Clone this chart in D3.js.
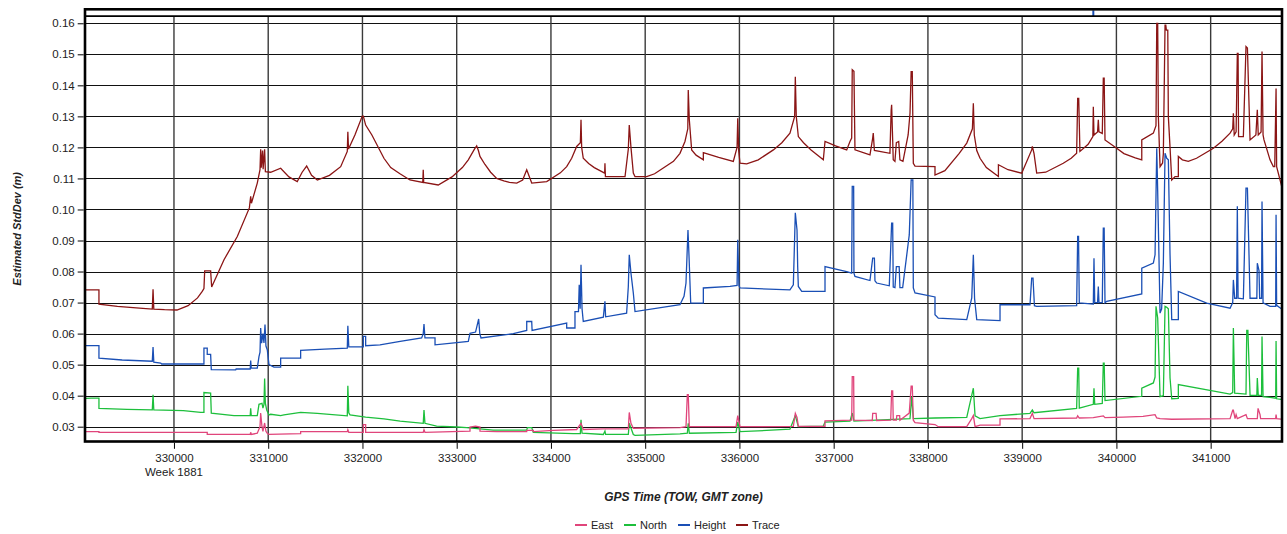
<!DOCTYPE html>
<html><head><meta charset="utf-8">
<script src="https://cdn.jsdelivr.net/npm/d3@7"></script>
<style>
html,body{margin:0;padding:0;background:#fff;}
svg{display:block;font-family:"Liberation Sans",Arial,sans-serif;}
</style></head>
<body>
<svg id="chart" width="1287" height="534"></svg>
<script>
// ---- data (GPS time of week [s], estimated std dev [m]) ----
const seriesNames = ["East", "North", "Height", "Trace"];
const xTicks = [330000,331000,332000,333000,334000,335000,336000,337000,338000,339000,340000,341000];
const yTicks = [0.03,0.04,0.05,0.06,0.07,0.08,0.09,0.10,0.11,0.12,0.13,0.14,0.15,0.16];
const weekLabel = "Week 1881";
const topMarkers = [339755];

const traceData = [
[329056,0.0741],[329204,0.0741],[329204,0.0695],[329400,0.0688],[329600,0.0683],[329770,0.0679],[329778,0.0743],[329786,0.0679],
[329900,0.0677],[330032,0.0676],[330150,0.0690],[330250,0.0715],[330300,0.0736],[330318,0.0745],[330326,0.0802],[330389,0.0802],
[330400,0.0750],[330531,0.0838],[330672,0.0913],[330800,0.1005],[330814,0.1042],[330822,0.1020],[330884,0.1085],[330913,0.1128],
[330920,0.1194],[330926,0.1135],[330940,0.1190],[330946,0.1130],[330962,0.1194],[330970,0.1122],[331026,0.1120],[331132,0.1133],
[331220,0.1105],[331308,0.1090],[331360,0.1120],[331408,0.1140],[331460,0.1110],[331521,0.1095],[331650,0.1110],[331769,0.1138],[331839,0.1187],
[331845,0.1250],[331852,0.1195],[331920,0.1240],[331998,0.1301],[332009,0.1301],[332034,0.1272],[332100,0.1240],[332228,0.1165],
[332300,0.1135],[332398,0.1115],[332504,0.1095],[332640,0.1087],[332645,0.1128],[332650,0.1087],[332804,0.1079],[332950,0.1105],[333060,0.1135],
[333123,0.1160],[333190,0.1195],[333212,0.1205],[333230,0.1190],[333247,0.1171],[333300,0.1145],[333360,0.1120],[333424,0.1100],
[333500,0.1092],[333560,0.1087],[333637,0.1085],
[333700,0.1095],[333743,0.1128],[333796,0.1085],[333955,0.1090],[334100,0.1118],[334167,0.1138],[334220,0.1165],[334273,0.1203],[334312,0.1215],
[334319,0.1289],[334326,0.1200],[334343,0.1165],[334400,0.1148],[334460,0.1135],[334570,0.1117],[334573,0.1149],[334578,0.1106],[334786,0.1106],
[334821,0.1195],[334831,0.1272],[334849,0.1200],[334874,0.1117],[334892,0.1106],[335016,0.1106],[335100,0.1115],[335200,0.1135],[335300,0.1155],[335369,0.1181],
[335422,0.1219],[335452,0.1260],[335457,0.1385],[335468,0.1290],[335493,0.1192],[335540,0.1175],[335617,0.1160],[335617,0.1183],[335780,0.1168],
[335935,0.1155],[335975,0.1200],[335982,0.1294],[335992,0.1190],[336006,0.1149],[336077,0.1147],[336200,0.1160],[336360,0.1192],[336450,0.1215],
[336536,0.1246],[336586,0.1300],[336593,0.1428],[336603,0.1300],[336625,0.1235],[336680,0.1215],[336760,0.1192],[336890,0.1160],[336908,0.1219],
[337020,0.1205],[337138,0.1192],[337173,0.1219],[337191,0.1230],[337197,0.1450],[337215,0.1445],[337226,0.1192],[337385,0.1176],
[337414,0.1230],[337420,0.1246],[337432,0.1190],[337597,0.1181],[337610,0.1320],[337615,0.1337],[337632,0.1160],[337650,0.1155],
[337665,0.1215],[337690,0.1219],[337703,0.1160],[337735,0.1155],[337790,0.1240],[337810,0.1310],[337822,0.1444],[337834,0.1444],
[337845,0.1149],[337863,0.1140],[338075,0.1138],[338075,0.1111],[338180,0.1125],[338330,0.1180],[338412,0.1214],[338472,0.1260],[338482,0.1342],
[338492,0.1240],[338518,0.1190],[338553,0.1165],[338620,0.1135],[338748,0.1106],[338748,0.1144],[338850,0.1128],[338995,0.1117],[339101,0.1192],[339108,0.1203],
[339126,0.1180],[339154,0.1117],[339250,0.1120],[339436,0.1149],[339520,0.1165],[339578,0.1181],[339589,0.1358],[339600,0.1358],[339613,0.1187],
[339700,0.1210],[339750,0.1235],[339755,0.1331],[339762,0.1240],[339800,0.1250],[339808,0.1289],[339815,0.1250],[339850,0.1245],
[339861,0.1423],[339870,0.1423],[339879,0.1224],[340003,0.1197],[340080,0.1180],[340200,0.1166],[340269,0.1160],[340269,0.1224],[340392,0.1246],
[340420,0.1270],[340428,0.1600],[340438,0.1600],[340445,0.1300],[340463,0.1138],[340490,0.1150],[340498,0.1180],[340516,0.1594],
[340524,0.1594],[340530,0.1578],[340545,0.1578],[340551,0.1300],[340569,0.1200],[340587,0.1095],[340622,0.1106],[340657,0.1106],
[340657,0.1171],[340700,0.1160],[340763,0.1155],[340850,0.1165],[341029,0.1197],[341120,0.1220],[341206,0.1246],[341234,0.1260],[341241,0.1310],[341250,0.1240],
[341270,0.1250],[341283,0.1503],[341291,0.1503],[341296,0.1235],[341347,0.1235],[341375,0.1525],[341390,0.1520],[341418,0.1224],
[341480,0.1240],[341495,0.1321],[341505,0.1240],[341535,0.1250],[341545,0.1509],[341556,0.1240],[341566,0.1224],[341630,0.1160],
[341665,0.1138],[341680,0.1138],[341694,0.1390],[341700,0.1138],[341754,0.1074]
];

const heightData = [
[329056,0.0561],[329204,0.0561],[329204,0.0521],[329450,0.0515],[329770,0.0511],[329778,0.0557],[329786,0.0508],[329859,0.0505],
[329870,0.0502],[330318,0.0502],[330318,0.0553],[330353,0.0553],[330353,0.0533],[330389,0.0533],[330396,0.0484],[330655,0.0483],
[330660,0.0486],[330809,0.0486],[330814,0.0513],[330820,0.0489],[330884,0.0489],[330902,0.0526],[330913,0.0540],[330920,0.0618],
[330930,0.0569],[330944,0.0600],[330955,0.0570],[330966,0.0629],[330976,0.0560],[330990,0.0548],[331008,0.0500],[331061,0.0492],
[331132,0.0492],[331132,0.0521],[331344,0.0521],[331344,0.0546],[331600,0.0550],[331839,0.0553],[331845,0.0625],[331855,0.0557],
[332009,0.0557],[332009,0.0591],[332034,0.0591],[332034,0.0561],[332186,0.0564],[332400,0.0575],[332628,0.0586],[332645,0.0600],
[332653,0.0631],[332663,0.0586],[332770,0.0586],[332770,0.0564],[333000,0.0571],[333123,0.0575],[333141,0.0601],[333200,0.0605],
[333233,0.0647],[333245,0.0600],[333258,0.0586],[333600,0.0600],[333743,0.0610],[333743,0.0639],[333796,0.0639],[333800,0.0610],
[334167,0.0634],[334167,0.0618],[334255,0.0618],[334255,0.0671],[334292,0.0671],[334300,0.0757],[334310,0.0680],[334319,0.0822],
[334330,0.0680],[334343,0.0639],[334556,0.0653],[334573,0.0704],[334580,0.0654],[334803,0.0666],[334821,0.0752],[334831,0.0854],
[334849,0.0795],[334874,0.0731],[334892,0.0671],[335369,0.0693],[335412,0.0720],[335433,0.0763],[335454,0.0934],[335465,0.0850],
[335483,0.0698],[335617,0.0698],[335617,0.0747],[335900,0.0752],[335975,0.0755],[335982,0.0902],[335995,0.0755],[336006,0.0747],
[336536,0.0741],[336572,0.0757],[336593,0.0989],[336611,0.0934],[336618,0.0816],[336625,0.0752],[336661,0.0736],[336908,0.0736],
[336908,0.0816],[337138,0.0800],[337191,0.0795],[337197,0.1074],[337212,0.1074],[337215,0.0795],[337226,0.0784],[337385,0.0771],
[337414,0.0843],[337432,0.0843],[337438,0.0770],[337456,0.0763],[337590,0.0754],[337615,0.0956],[337626,0.0956],[337632,0.0750],
[337650,0.0748],[337665,0.0816],[337695,0.0816],[337703,0.0748],[337732,0.0748],[337802,0.0918],[337822,0.1095],[337840,0.1095],
[337845,0.0747],[337863,0.0731],[338075,0.0718],[338075,0.0661],[338110,0.0650],[338412,0.0645],[338465,0.0715],[338482,0.0854],
[338495,0.0713],[338518,0.0645],[338765,0.0642],[338765,0.0693],[339083,0.0693],[339101,0.0779],[339115,0.0779],[339130,0.0690],
[339154,0.0688],[339578,0.0690],[339589,0.0913],[339598,0.0913],[339606,0.0699],[339755,0.0695],[339762,0.0843],[339770,0.0700],
[339800,0.0700],[339808,0.0752],[339815,0.0700],[339850,0.0700],[339861,0.0940],[339870,0.0940],[339879,0.0699],[339897,0.0704],
[340269,0.0728],[340269,0.0811],[340392,0.0827],[340410,0.0854],[340428,0.1197],[340438,0.1058],[340463,0.0666],[340480,0.0680],
[340498,0.0827],[340516,0.1181],[340534,0.1165],[340551,0.1160],[340569,0.0854],[340587,0.0645],[340657,0.0645],[340657,0.0736],
[340958,0.0698],[341206,0.0682],[341234,0.0700],[341241,0.0773],[341255,0.0714],[341275,0.0714],[341283,0.1010],[341291,0.0714],
[341347,0.0712],[341375,0.1069],[341390,0.1069],[341418,0.0714],[341490,0.0714],[341495,0.0827],[341513,0.0803],[341520,0.0714],
[341540,0.0714],[341545,0.1026],[341556,0.0699],[341630,0.0688],[341690,0.0688],[341694,0.0983],[341700,0.0691],[341754,0.0679]
];

const northData = [
[329056,0.0391],[329120,0.0392],[329204,0.0392],[329204,0.0359],[329500,0.0356],[329770,0.0354],[329778,0.0403],[329786,0.0354],
[330100,0.0352],[330283,0.0346],[330318,0.0346],[330318,0.0410],[330389,0.0408],[330396,0.0344],[330637,0.0336],[330809,0.0336],
[330814,0.0359],[330820,0.0336],[330884,0.0336],[330902,0.0372],[330934,0.0375],[330944,0.0360],[330955,0.0372],[330962,0.0455],
[330970,0.0375],[330984,0.0354],[331008,0.0338],[331026,0.0340],[331132,0.0336],[331167,0.0338],[331344,0.0346],[331521,0.0343],
[331839,0.0335],[331845,0.0432],[331855,0.0345],[331868,0.0338],[332034,0.0331],[332228,0.0325],[332400,0.0318],[332645,0.0311],
[332653,0.0354],[332663,0.0311],[332787,0.0302],[333000,0.0299],[333106,0.0297],[333388,0.0289],[333743,0.0289],[333750,0.0297],
[333796,0.0297],[333813,0.0282],[334238,0.0278],[334312,0.0278],[334319,0.0322],[334330,0.0279],[334556,0.0275],[334573,0.0286],
[334580,0.0275],[334821,0.0275],[334831,0.0311],[334874,0.0275],[334892,0.0272],[335369,0.0277],[335447,0.0279],[335457,0.0311],
[335468,0.0279],[335964,0.0282],[335982,0.0315],[336006,0.0284],[336289,0.0288],[336536,0.0292],[336593,0.0336],[336625,0.0300],
[336890,0.0302],[336908,0.0315],[337173,0.0318],[337197,0.0344],[337215,0.0318],[337810,0.0326],[337828,0.0397],[337845,0.0326],
[338075,0.0328],[338412,0.0330],[338482,0.0424],[338500,0.0335],[338553,0.0326],[338765,0.0336],[339083,0.0343],[339108,0.0354],
[339126,0.0345],[339578,0.0359],[339589,0.0489],[339600,0.0489],[339606,0.0360],[339755,0.0372],[339762,0.0424],[339770,0.0372],
[339850,0.0375],[339861,0.0505],[339870,0.0505],[339879,0.0384],[340269,0.0398],[340269,0.0424],[340392,0.0441],[340410,0.0460],
[340420,0.0688],[340438,0.0650],[340463,0.0397],[340498,0.0400],[340516,0.0688],[340534,0.0685],[340551,0.0680],[340569,0.0457],
[340587,0.0390],[340657,0.0391],[340657,0.0436],[341206,0.0405],[341234,0.0410],[341241,0.0618],[341255,0.0408],[341375,0.0405],
[341383,0.0610],[341395,0.0610],[341418,0.0401],[341490,0.0401],[341495,0.0457],[341505,0.0401],[341540,0.0401],[341545,0.0591],
[341556,0.0397],[341690,0.0392],[341694,0.0576],[341700,0.0390],[341754,0.0388]
];

const eastData = [
[329056,0.0284],[329204,0.0284],[329204,0.0282],[330353,0.0282],[330353,0.0275],[330809,0.0275],[330814,0.0282],[330820,0.0275],
[330884,0.0279],[330913,0.0300],[330920,0.0344],[330934,0.0300],[330944,0.0285],[330962,0.0312],[330976,0.0285],[330990,0.0279],
[331008,0.0275],[331344,0.0278],[331344,0.0284],[331839,0.0284],[331845,0.0290],[331855,0.0282],[332009,0.0282],[332009,0.0307],
[332034,0.0307],[332034,0.0282],[332645,0.0282],[332653,0.0290],[332663,0.0282],[333141,0.0286],[333141,0.0299],[333200,0.0302],
[333247,0.0299],[333247,0.0286],[333424,0.0284],[333743,0.0284],[333743,0.0288],[333813,0.0288],[333813,0.0284],[334025,0.0288],
[334273,0.0291],[334319,0.0311],[334343,0.0291],[334556,0.0293],[334821,0.0293],[334831,0.0346],[334849,0.0311],[334874,0.0295],
[335369,0.0297],[335433,0.0300],[335447,0.0403],[335457,0.0403],[335468,0.0300],[335964,0.0300],[335982,0.0336],[336006,0.0300],
[336572,0.0301],[336593,0.0343],[336611,0.0330],[336625,0.0301],[336908,0.0301],[336908,0.0319],[337191,0.0321],[337197,0.0461],
[337212,0.0461],[337215,0.0321],[337410,0.0320],[337414,0.0343],[337450,0.0343],[337456,0.0320],[337605,0.0321],[337615,0.0415],
[337626,0.0415],[337632,0.0321],[337665,0.0321],[337670,0.0336],[337700,0.0336],[337703,0.0321],[337802,0.0344],[337822,0.0431],
[337834,0.0431],[337845,0.0321],[337863,0.0313],[338075,0.0307],[338110,0.0300],[338412,0.0300],[338465,0.0326],[338482,0.0336],
[338500,0.0300],[338553,0.0305],[338765,0.0305],[338765,0.0325],[339083,0.0326],[339108,0.0343],[339126,0.0326],[339578,0.0328],
[339589,0.0335],[339606,0.0328],[339755,0.0329],[339861,0.0335],[339879,0.0329],[340074,0.0331],[340282,0.0333],[340410,0.0339],
[340428,0.0328],[340463,0.0326],[340587,0.0324],[341206,0.0326],[341234,0.0353],[341241,0.0353],[341259,0.0326],[341270,0.0339],
[341283,0.0326],[341375,0.0339],[341390,0.0326],[341495,0.0326],[341503,0.0359],[341524,0.0339],[341530,0.0326],[341690,0.0326],
[341694,0.0339],[341700,0.0326],[341754,0.0324]
];

const seriesColors = ["#E0457B", "#1DBF3C", "#1A4FB5", "#8B1515"];

// ---- drawing ----
const svg = d3.select("#chart");
const L = 85, R = 1282, T = 9.3, B = 441.5;
const x = d3.scaleLinear().domain([329056, 341757]).range([L, R]);
const y = d3.scaleLinear().domain([0.02507, 0.1646]).range([B + 0.5, T - 0.3]);

svg.append("rect").attr("width",1287).attr("height",534).attr("fill","#fff");

const innerTop = y(0.1623);

svg.append("defs").append("clipPath").attr("id","clip")
  .append("rect").attr("x",L+1).attr("y",innerTop).attr("width",R-L-2).attr("height",B-innerTop);

// gridlines
const grid = svg.append("g");
grid.selectAll("line.h").data(yTicks).join("line")
  .attr("x1",L).attr("x2",R)
  .attr("y1",d=>Math.round(y(d))+0.5).attr("y2",d=>Math.round(y(d))+0.5)
  .attr("stroke","#111").attr("stroke-width",1.2);
grid.selectAll("line.v").data(xTicks).join("line")
  .attr("x1",d=>x(d)).attr("x2",d=>x(d))
  .attr("y1",innerTop).attr("y2",B)
  .attr("stroke","#3a3a3a").attr("stroke-width",1.4);

// series
const line = d3.line().x(d=>x(d[0])).y(d=>y(d[1]));
const allSeries = [eastData, northData, heightData, traceData];
const drawOrder = [3,2,1,0];
const lines = svg.append("g").attr("clip-path","url(#clip)");
drawOrder.forEach(i=>{
  lines.append("path").datum(allSeries[i])
    .attr("d",line).attr("fill","none")
    .attr("stroke",seriesColors[i]).attr("stroke-width",1.3)
    .attr("stroke-linejoin","miter");
});

// top band markers
svg.selectAll("line.mk").data(topMarkers).join("line")
  .attr("x1",d=>x(d)).attr("x2",d=>x(d)).attr("y1",T+1).attr("y2",innerTop)
  .attr("stroke",seriesColors[2]).attr("stroke-width",2);

// frame
svg.append("line").attr("x1",L).attr("x2",R).attr("y1",innerTop).attr("y2",innerTop)
  .attr("stroke","#000").attr("stroke-width",1.6);
svg.append("rect").attr("x",L).attr("y",T).attr("width",R-L).attr("height",B-T)
  .attr("fill","none").attr("stroke","#000").attr("stroke-width",2.6);

// y axis
const yAxis = d3.axisLeft(y).tickValues(yTicks).tickFormat(d3.format(".2f")).tickSize(6).tickPadding(3);
const gy = svg.append("g").attr("transform",`translate(${L-1.3},0)`).call(yAxis);
gy.select(".domain").remove();
gy.selectAll(".tick line").attr("stroke","#000");
gy.selectAll(".tick text").attr("font-size","11.5px").attr("fill","#222")
  .attr("font-family","'Liberation Sans',Arial,sans-serif");

// x axis
const xAxis = d3.axisBottom(x).tickValues(xTicks).tickFormat(d3.format("d")).tickSize(6).tickPadding(5);
const gx = svg.append("g").attr("transform",`translate(0,${B+1.3})`).call(xAxis);
gx.select(".domain").remove();
gx.selectAll(".tick line").attr("stroke","#000");
gx.selectAll(".tick text").attr("font-size","11.5px").attr("fill","#222")
  .attr("font-family","'Liberation Sans',Arial,sans-serif");

svg.append("text").attr("x",x(xTicks[0])).attr("y",476).attr("text-anchor","middle")
  .attr("font-size","11.5px").attr("fill","#222").text(weekLabel);

// axis titles
svg.append("text").attr("x",(L+R)/2).attr("y",501).attr("text-anchor","middle")
  .attr("font-size","12px").attr("font-weight","bold").attr("font-style","italic").attr("fill","#222")
  .text("GPS Time (TOW, GMT zone)");
svg.append("text").attr("transform",`translate(21,${(innerTop+B)/2}) rotate(-90)`).attr("text-anchor","middle")
  .attr("font-size","11px").attr("font-weight","bold").attr("font-style","italic").attr("fill","#222")
  .text("Estimated StdDev (m)");

// legend
const legendX = [575, 624, 678, 736];
const lg = svg.append("g");
seriesNames.forEach((n,i)=>{
  lg.append("line").attr("x1",legendX[i]).attr("x2",legendX[i]+12).attr("y1",525).attr("y2",525)
    .attr("stroke",seriesColors[i]).attr("stroke-width",2);
  lg.append("text").attr("x",legendX[i]+16).attr("y",529).attr("font-size","11px").attr("fill","#222").text(n);
});
</script>
</body></html>
